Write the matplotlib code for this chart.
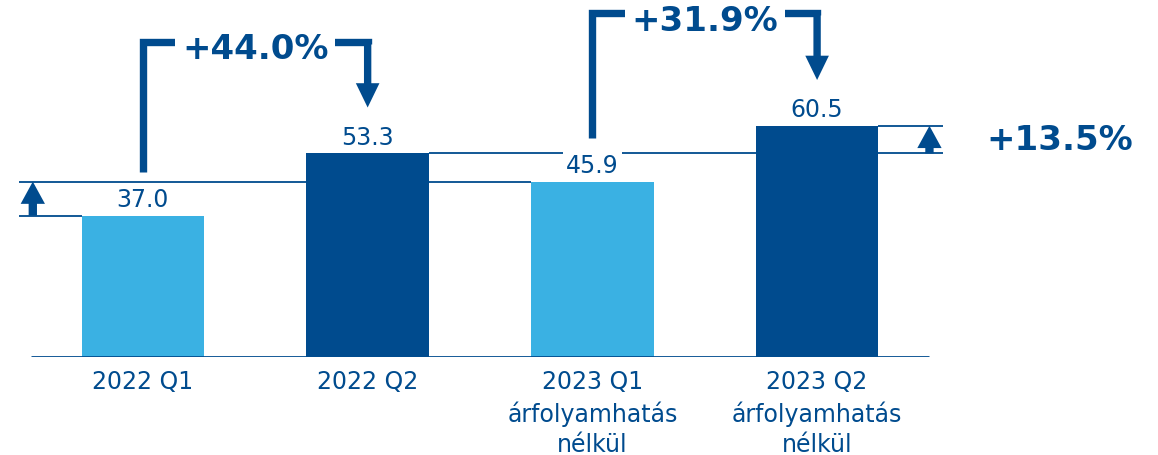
import numpy as np
import matplotlib.pyplot as plt

# adatok
categories = ['2022 Q1', '2022 Q2',
              '2023 Q1\nárfolyamhatás\nnélkül',
              '2023 Q2\nárfolyamhatás\nnélkül']
values = [37.0, 53.3, 45.9, 60.5]
growth_labels = ['+44.0%', '+31.9%', '+13.5%']

dark = '#004B8E'
light = '#3AB1E3'
bar_colors = [light, dark, light, dark]

plt.rcParams['font.family'] = ['DejaVu Sans']

fig = plt.figure(figsize=(11.58, 4.56), dpi=100)
ax = fig.add_axes([0, 98 / 456, 1, 358 / 456])
ax.set_xlim(-0.636, 4.517)
ax.set_ylim(0, 93.7)
for s in ax.spines.values():
    s.set_visible(False)
ax.set_yticks([])

x = np.arange(len(values))
w = 0.545
lw_thin = 1.3

# szintvonalak
ax.hlines(values[0], -0.55, x[0] - w / 2, color=dark, lw=lw_thin, zorder=1)
ax.hlines(values[2], -0.55, x[2] - w / 2, color=dark, lw=lw_thin, zorder=1)
ax.hlines(values[1], x[1] + w / 2, x[3] - w / 2, color=dark, lw=lw_thin, zorder=1)
ax.hlines([values[1], values[3]], x[3] + w / 2, 3.56, color=dark, lw=lw_thin, zorder=1)

ax.bar(x, values, width=w, color=bar_colors, zorder=2)
ax.hlines(0, -0.5, 3.5, color=dark, lw=2, zorder=3)

# oszlopcimkek
for i, v in enumerate(values):
    bbox = None
    if i == 2:
        bbox = dict(boxstyle='square,pad=0.15', fc='white', ec='none')
    ax.annotate(f'{v:.1f}', (x[i], v), xytext=(0, 7), textcoords='offset points',
                ha='center', va='baseline', fontsize=17, color=dark,
                bbox=bbox, zorder=4)

arrow_small = 'simple,head_length=16,head_width=17.5,tail_width=6'
arrow_big = 'simple,head_length=17.5,head_width=17,tail_width=5.3'


def bracket(i, j, top, label):
    y0 = values[i] + 11.4
    y1 = values[j] + 12
    ax.plot([x[i], x[i], x[j], x[j]], [y0, top, top, top - 0.5], color=dark,
            lw=5.3, solid_capstyle='butt', solid_joinstyle='miter', zorder=3)
    ax.annotate('', xy=(x[j], y1), xytext=(x[j], top),
                arrowprops=dict(arrowstyle=arrow_big, color=dark, lw=0,
                                shrinkA=0, shrinkB=0, mutation_scale=1),
                zorder=3)
    ax.annotate(label, ((x[i] + x[j]) / 2, top), xytext=(0, -5),
                textcoords='offset points', ha='center', va='center',
                fontsize=24.5, fontweight='bold', color=dark, zorder=4,
                bbox=dict(boxstyle='square,pad=0.2', fc='white', ec='none'))


bracket(0, 1, values[1] + 29.2, growth_labels[0])
bracket(2, 3, values[3] + 29.5, growth_labels[1])

# kis nyilak
for xa, lo, hi in [(-0.49, values[0], values[2]), (3.50, values[1], values[3])]:
    ax.annotate('', xy=(xa, hi), xytext=(xa, lo),
                arrowprops=dict(arrowstyle=arrow_small, color=dark, lw=0,
                                shrinkA=0, shrinkB=0, mutation_scale=1))
ax.text(4.08, (values[1] + values[3]) / 2, growth_labels[2], ha='center',
        va='center', fontsize=24.5, fontweight='bold', color=dark)

ax.set_xticks(x, categories)
ax.tick_params(axis='x', length=0, pad=9, labelsize=17, labelcolor=dark)
for lbl in ax.get_xticklabels():
    lbl.set_linespacing(1.33)

fig.savefig('out.png', dpi=100)
